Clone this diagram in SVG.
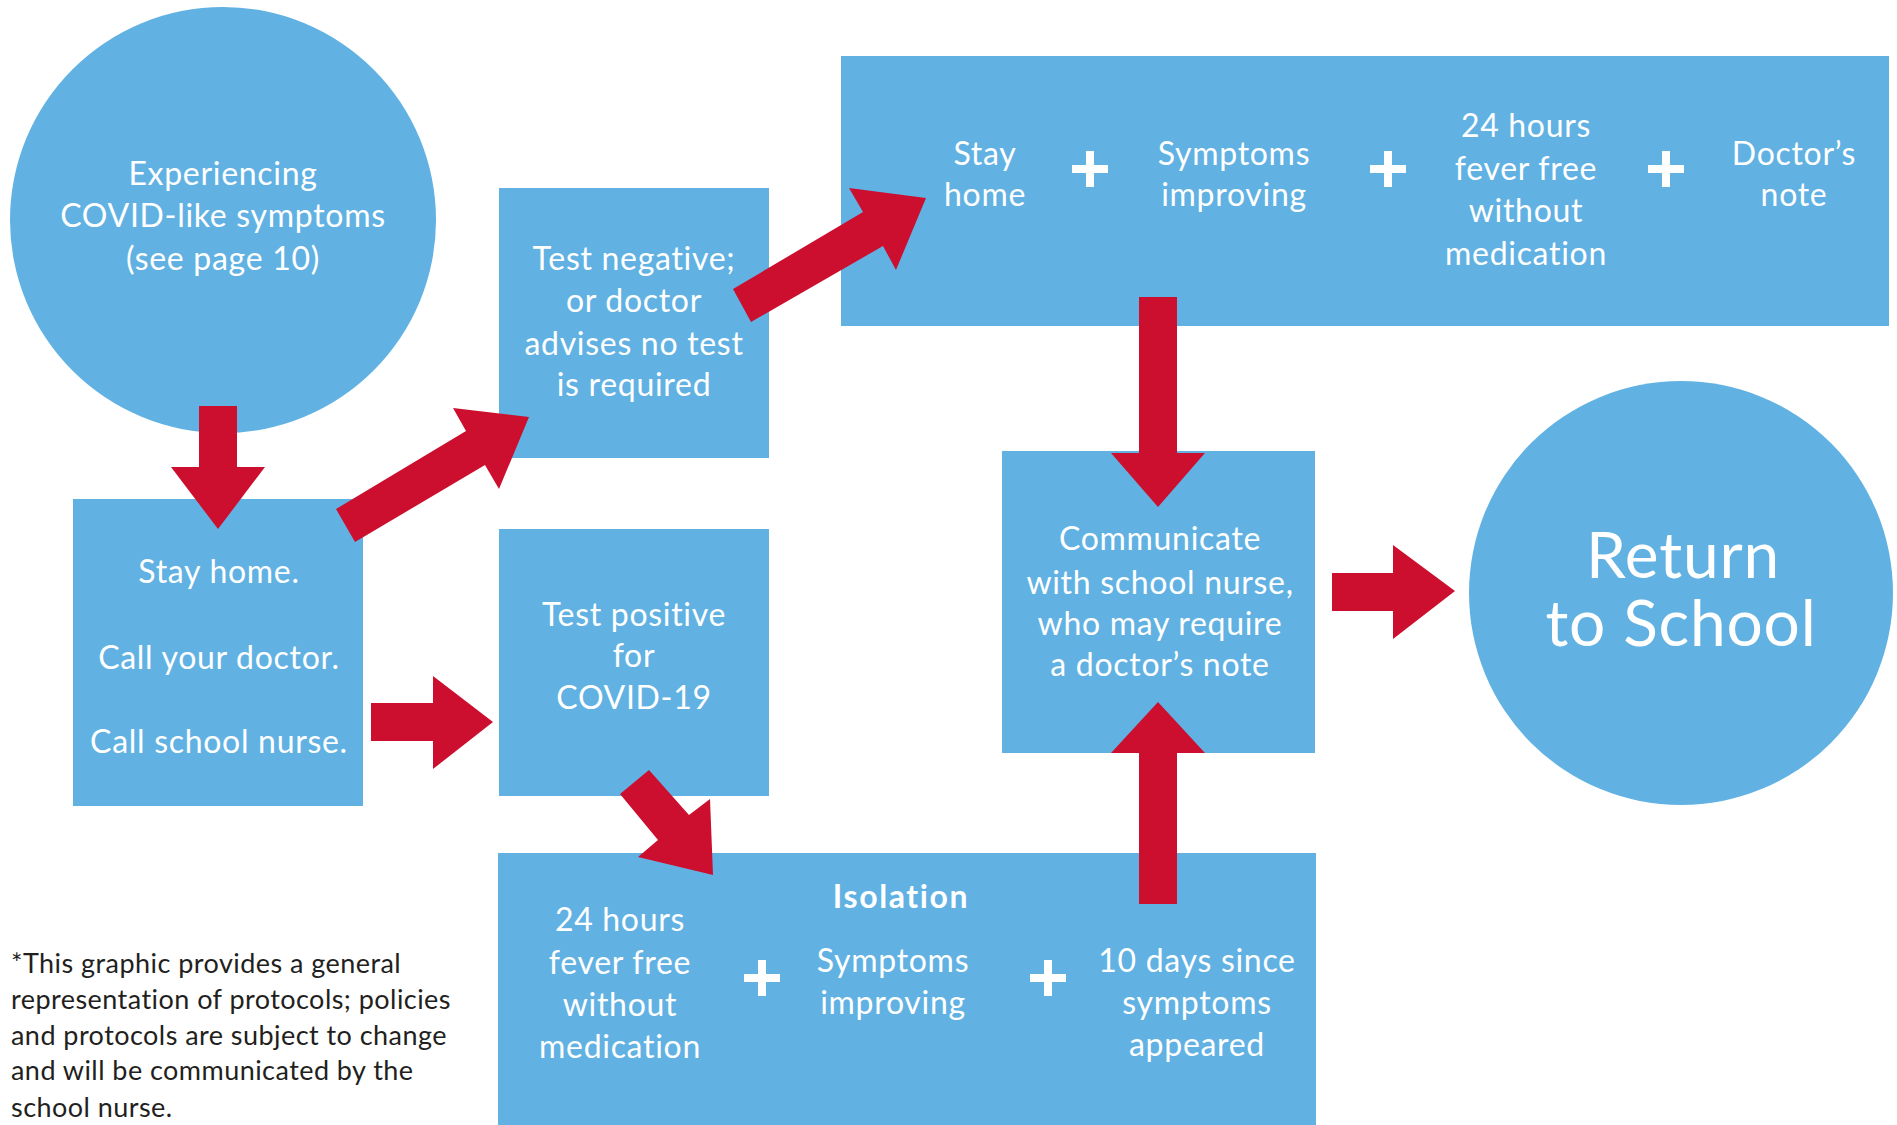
<svg xmlns="http://www.w3.org/2000/svg" width="1897" height="1125" viewBox="0 0 1897 1125">
<style>
.node{fill:#61b2e3}
.arrow{fill:#cc0f2e}
.t{font-family:Lato,"Open Sans","Liberation Sans",sans-serif;fill:#ffffff;font-size:32px;letter-spacing:0.7px;text-anchor:middle}
.b{font-weight:bold;letter-spacing:1.6px}
.big{font-size:64px;letter-spacing:0.8px}
.foot{font-family:Lato,"Open Sans","Liberation Sans",sans-serif;fill:#231f20;font-size:27px;letter-spacing:0.45px}
.plus{fill:#ffffff}
</style>
<defs>
<path id="plus" d="M-18,-4H-4V-18H4V-4H18V4H4V18H-4V4H-18Z"/>
</defs>
<rect width="1897" height="1125" fill="#ffffff"/>

<g id="experiencing">
<circle class="node" cx="223" cy="220" r="213"/>
<text class="t" x="223" y="185">Experiencing</text>
<text class="t" x="223" y="227">COVID-like symptoms</text>
<text class="t" x="223" y="270">(see page 10)</text>
</g>

<g id="stay-home-call">
<rect class="node" x="73" y="499" width="290" height="307"/>
<text class="t" x="219" y="583">Stay home.</text>
<text class="t" x="219" y="669">Call your doctor.</text>
<text class="t" x="219" y="753">Call school nurse.</text>
</g>

<g id="test-negative">
<rect class="node" x="499" y="188" width="270" height="270"/>
<text class="t" x="634" y="270">Test negative;</text>
<text class="t" x="634" y="312">or doctor</text>
<text class="t" x="634" y="355">advises no test</text>
<text class="t" x="634" y="396">is required</text>
</g>

<g id="test-positive">
<rect class="node" x="499" y="529" width="270" height="267"/>
<text class="t" x="634" y="626">Test positive</text>
<text class="t" x="634" y="667">for</text>
<text class="t" x="634" y="709">COVID-19</text>
</g>

<g id="negative-requirements">
<rect class="node" x="841" y="56" width="1048" height="270"/>
<text class="t" x="985" y="165">Stay</text>
<text class="t" x="985" y="206">home</text>
<use href="#plus" class="plus" x="1090" y="169"/>
<text class="t" x="1234" y="165">Symptoms</text>
<text class="t" x="1234" y="206">improving</text>
<use href="#plus" class="plus" x="1388" y="169"/>
<text class="t" x="1526" y="137">24 hours</text>
<text class="t" x="1526" y="180">fever free</text>
<text class="t" x="1526" y="222">without</text>
<text class="t" x="1526" y="265">medication</text>
<use href="#plus" class="plus" x="1666" y="169"/>
<text class="t" x="1794" y="165">Doctor’s</text>
<text class="t" x="1794" y="206">note</text>
</g>

<g id="communicate">
<rect class="node" x="1002" y="451" width="313" height="302"/>
<text class="t" x="1160" y="550">Communicate</text>
<text class="t" x="1160" y="594">with school nurse,</text>
<text class="t" x="1160" y="635">who may require</text>
<text class="t" x="1160" y="676">a doctor’s note</text>
</g>

<g id="return-to-school">
<circle class="node" cx="1681" cy="593" r="212"/>
<text class="t big" x="1683" y="578"><tspan x="1683" y="578">Return</tspan><tspan x="1681" y="646">to School</tspan></text>
</g>

<g id="isolation">
<rect class="node" x="498" y="853" width="818" height="272"/>
<text class="t b" x="901" y="908">Isolation</text>
<text class="t" x="620" y="931">24 hours</text>
<text class="t" x="620" y="974">fever free</text>
<text class="t" x="620" y="1016">without</text>
<text class="t" x="620" y="1058">medication</text>
<use href="#plus" class="plus" x="762" y="978"/>
<text class="t" x="893" y="972">Symptoms</text>
<text class="t" x="893" y="1014">improving</text>
<use href="#plus" class="plus" x="1048" y="978"/>
<text class="t" x="1197" y="972">10 days since</text>
<text class="t" x="1197" y="1014">symptoms</text>
<text class="t" x="1197" y="1056">appeared</text>
</g>

<g id="footnote">
<text class="foot" x="11" y="973">*This graphic provides a general</text>
<text class="foot" x="11" y="1009">representation of protocols; policies</text>
<text class="foot" x="11" y="1045">and protocols are subject to change</text>
<text class="foot" x="11" y="1080">and will be communicated by the</text>
<text class="foot" x="11" y="1117">school nurse.</text>
</g>

<g id="connectors">
<polygon class="arrow" points="199,406 237,406 237,467 265,467 218,529 171,467 199,467"/>
<polygon class="arrow" points="336,509 466,431 453,408 529,417 499,489 485,465 355,542"/>
<polygon class="arrow" points="733,289 863,212 849,188 926,198 896,270 883,246 751,322"/>
<polygon class="arrow" points="1139,297 1177,297 1177,453 1205,453 1158,507 1111,453 1139,453"/>
<polygon class="arrow" points="371,703 433,703 433,676 493,722 433,769 433,741 371,741"/>
<polygon class="arrow" points="649,770 689,815 710,799 713,875 638,857 658,840 620,794"/>
<polygon class="arrow" points="1139,904 1177,904 1177,753 1205,753 1158,702 1111,753 1139,753"/>
<polygon class="arrow" points="1332,573 1393,573 1393,545 1455,591 1393,639 1393,611 1332,611"/>
</g>
</svg>
